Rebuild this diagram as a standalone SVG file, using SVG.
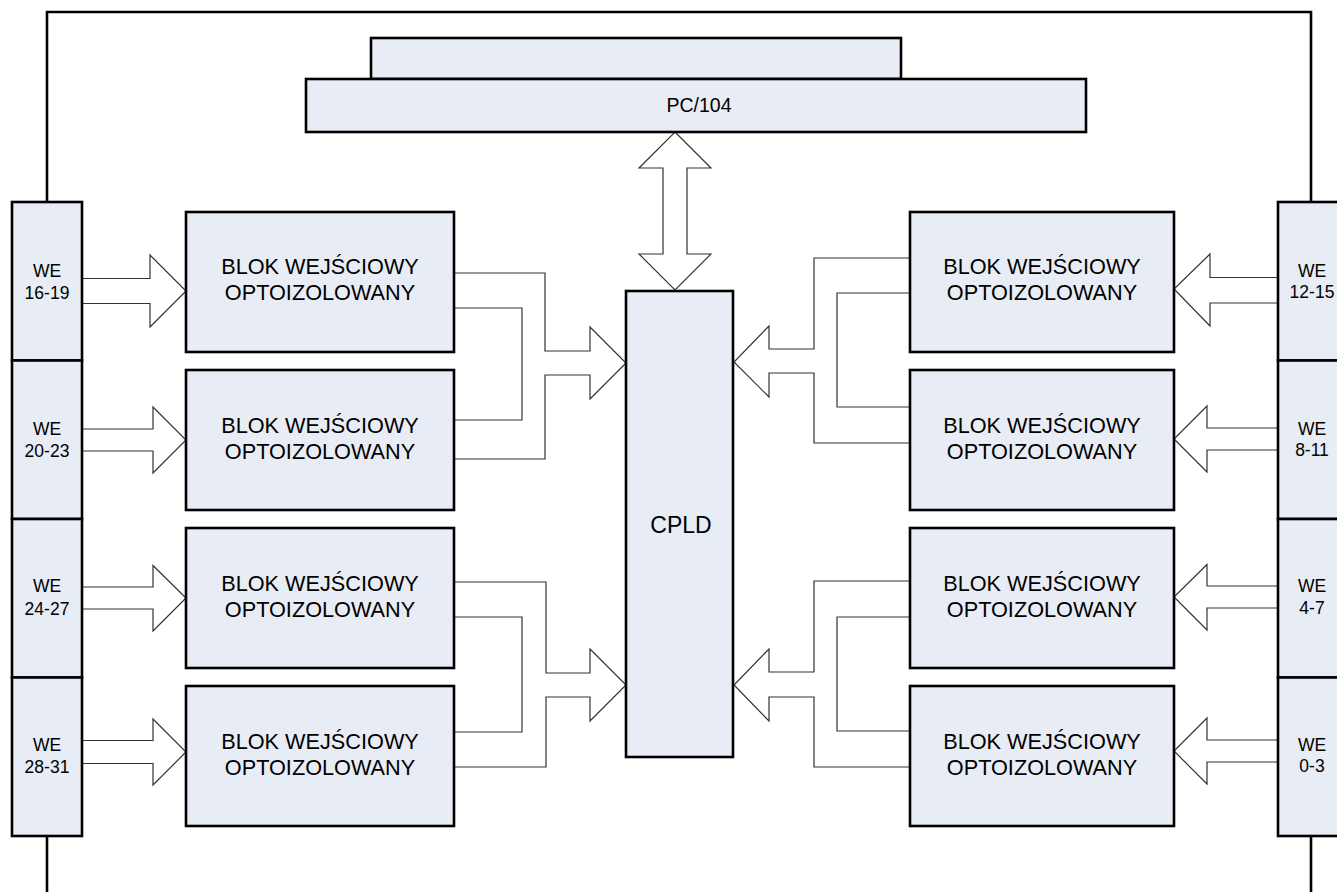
<svg xmlns="http://www.w3.org/2000/svg" width="1337" height="892" viewBox="0 0 1337 892">
<style>
.box{fill:#E8ECF4;stroke:#000;stroke-width:2.6}
.frame{fill:none;stroke:#000;stroke-width:2.6}
.arr{fill:#fff;stroke:#333;stroke-width:1.2;stroke-linejoin:miter}
.wire{fill:none;stroke:#333;stroke-width:1.2}
.lbl{font-family:"Liberation Sans",Arial,sans-serif;font-size:17.5px;fill:#000;text-anchor:middle}
.big{font-family:"Liberation Sans",Arial,sans-serif;font-size:21.7px;fill:#000;text-anchor:middle}
</style>
<rect width="1337" height="892" fill="#fff"/>
<g id="frame">
<polyline class="frame" points="47,202 47,12 1311,12 1311,202"/>
<line class="frame" x1="47" y1="836" x2="47" y2="892"/>
<line class="frame" x1="1311" y1="836" x2="1311" y2="892"/>
</g>
<g id="connectors">
<polygon class="arr" points="675,132 711,168 687,168 687,254 711,254 675,290 639,254 663,254 663,168 639,168"/>
<polygon class="arr" points="82,278.5 150,278.5 150,255 186,291 150,327 150,303.5 82,303.5"/>
<polygon class="arr" points="82,429 153,429 153,407 186,440 153,473 153,451 82,451"/>
<polygon class="arr" points="82,587 153,587 153,565.5 186,598 153,631 153,609 82,609"/>
<polygon class="arr" points="82,740.5 153,740.5 153,719 186,752 153,785 153,763.5 82,763.5"/>
<polygon class="arr" points="1278,277.5 1210,277.5 1210,254 1174,289 1210,326 1210,303 1278,303"/>
<polygon class="arr" points="1278,428 1207,428 1207,406 1174,439 1207,472 1207,450 1278,450"/>
<polygon class="arr" points="1278,586 1207,586 1207,564.5 1174,597 1207,630 1207,608 1278,608"/>
<polygon class="arr" points="1278,740 1207,740 1207,718 1174,751 1207,784 1207,762 1278,762"/>
<polyline class="arr" points="454,273 545,273 545,351 590,351 590,327 626,363 590,399 590,375 545,375 545,459 454,459"/>
<polyline class="wire" points="454,308 522,308 522,420 454,420"/>
<polyline class="arr" points="454,582 546,582 546,673 590,673 590,649 626,685 590,721 590,697 546,697 546,767 454,767"/>
<polyline class="wire" points="454,617 522,617 522,732 454,732"/>
<polyline class="arr" points="910,258 814,258 814,349 769,349 769,326 734,362 769,397 769,373 814,373 814,443 910,443"/>
<polyline class="wire" points="910,293 837,293 837,407 910,407"/>
<polyline class="arr" points="910,581 814,581 814,672 769,672 769,649 734,685 769,721 769,697 814,697 814,767 910,767"/>
<polyline class="wire" points="910,617 837,617 837,731 910,731"/>
</g>
<g id="pc104-top"><rect class="box" x="371" y="38" width="530" height="41"/></g>
<g id="pc104"><rect class="box" x="306" y="79" width="780" height="53"/><text class="lbl" x="699" y="112" style="font-size:19.5px">PC/104</text></g>
<g id="cpld"><rect class="box" x="626" y="291" width="107" height="466"/><text class="big" x="681" y="533" style="font-size:23px">CPLD</text></g>
<g id="we16"><rect class="box" x="12" y="202" width="70" height="158.5"/><text class="lbl" x="47" y="277">WE</text><text class="lbl" x="47" y="299">16-19</text></g>
<g id="we20"><rect class="box" x="12" y="360.5" width="70" height="158.5"/><text class="lbl" x="47" y="435">WE</text><text class="lbl" x="47" y="457">20-23</text></g>
<g id="we24"><rect class="box" x="12" y="519" width="70" height="158.5"/><text class="lbl" x="47" y="592">WE</text><text class="lbl" x="47" y="615">24-27</text></g>
<g id="we28"><rect class="box" x="12" y="677.5" width="70" height="158.5"/><text class="lbl" x="47" y="751">WE</text><text class="lbl" x="47" y="773">28-31</text></g>
<g id="we12"><rect class="box" x="1278" y="202" width="70" height="158.5"/><text class="lbl" x="1312" y="277">WE</text><text class="lbl" x="1312" y="298">12-15</text></g>
<g id="we8"><rect class="box" x="1278" y="360.5" width="70" height="158.5"/><text class="lbl" x="1312" y="435">WE</text><text class="lbl" x="1312" y="456">8-11</text></g>
<g id="we4"><rect class="box" x="1278" y="519" width="70" height="158.5"/><text class="lbl" x="1312" y="592">WE</text><text class="lbl" x="1312" y="614">4-7</text></g>
<g id="we0"><rect class="box" x="1278" y="677.5" width="70" height="158.5"/><text class="lbl" x="1312" y="751">WE</text><text class="lbl" x="1312" y="772">0-3</text></g>
<g id="blokL1"><rect class="box" x="186" y="212" width="268" height="140"/><text class="big" x="320" y="274">BLOK WEJŚCIOWY</text><text class="big" x="320" y="300">OPTOIZOLOWANY</text></g>
<g id="blokL2"><rect class="box" x="186" y="370" width="268" height="140"/><text class="big" x="320" y="433">BLOK WEJŚCIOWY</text><text class="big" x="320" y="459">OPTOIZOLOWANY</text></g>
<g id="blokL3"><rect class="box" x="186" y="528" width="268" height="140"/><text class="big" x="320" y="591">BLOK WEJŚCIOWY</text><text class="big" x="320" y="617">OPTOIZOLOWANY</text></g>
<g id="blokL4"><rect class="box" x="186" y="686" width="268" height="140"/><text class="big" x="320" y="749">BLOK WEJŚCIOWY</text><text class="big" x="320" y="775">OPTOIZOLOWANY</text></g>
<g id="blokR1"><rect class="box" x="910" y="212" width="264" height="140"/><text class="big" x="1042" y="274">BLOK WEJŚCIOWY</text><text class="big" x="1042" y="300">OPTOIZOLOWANY</text></g>
<g id="blokR2"><rect class="box" x="910" y="370" width="264" height="140"/><text class="big" x="1042" y="433">BLOK WEJŚCIOWY</text><text class="big" x="1042" y="459">OPTOIZOLOWANY</text></g>
<g id="blokR3"><rect class="box" x="910" y="528" width="264" height="140"/><text class="big" x="1042" y="591">BLOK WEJŚCIOWY</text><text class="big" x="1042" y="617">OPTOIZOLOWANY</text></g>
<g id="blokR4"><rect class="box" x="910" y="686" width="264" height="140"/><text class="big" x="1042" y="749">BLOK WEJŚCIOWY</text><text class="big" x="1042" y="775">OPTOIZOLOWANY</text></g>
</svg>
